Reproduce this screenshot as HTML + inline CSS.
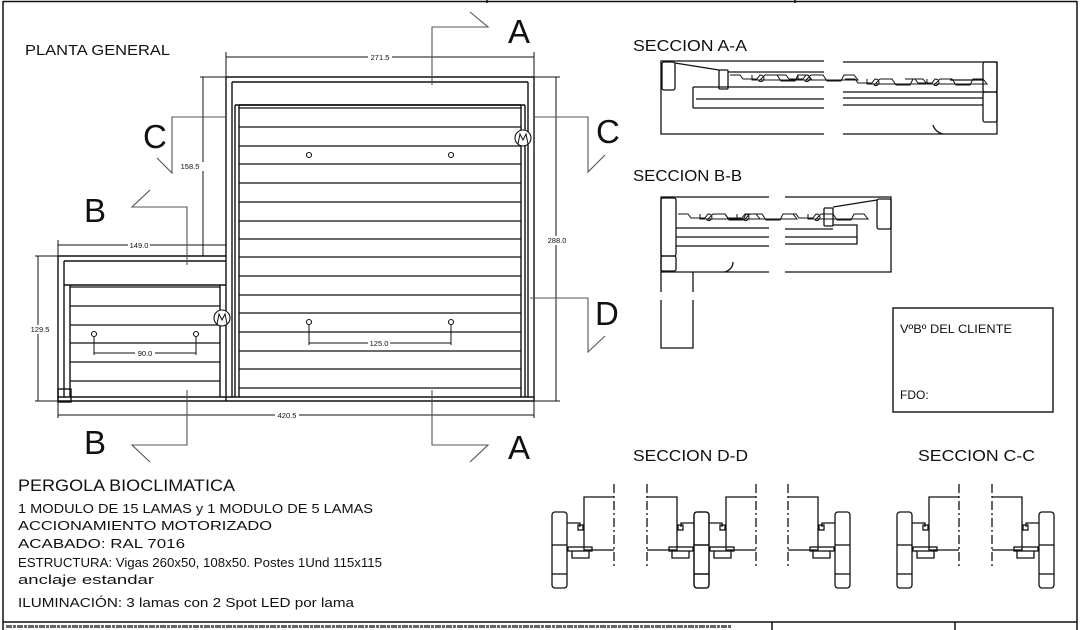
<!DOCTYPE html>
<html><head><meta charset="utf-8"><style>
html,body{margin:0;padding:0;background:#fff;}
svg{display:block;}
text{font-family:"Liberation Sans",sans-serif;fill:#111;}
</style></head><body>
<svg width="1080" height="630" viewBox="0 0 1080 630" xmlns="http://www.w3.org/2000/svg">
<defs>
<g id="pc" fill="none" stroke="#111" stroke-width="1.3">
  <rect x="0" y="512" width="15" height="76" rx="3"/>
  <line x1="0" y1="545" x2="15" y2="545"/>
  <line x1="0" y1="574" x2="15" y2="574"/>
  <polyline points="15,523 28,523 28,527"/>
  <rect x="26" y="525" width="5" height="5"/>
  <polyline points="62,497 32,497 32,550 62,550"/>
  <line x1="62" y1="484" x2="62" y2="566" stroke-dasharray="9,3,2,3"/>
  <rect x="16" y="547" width="24" height="4"/>
  <polyline points="20,551 20,558 37,558 37,551"/>
</g>
<g id="lam" fill="none" stroke="#111" stroke-width="1">
  <path d="M0,0 h10 l3,4 h14 l3,-4 q4,0 4,4 q-2,4 -5,2 l6,-6 h12 l4,6 h14 l3,-6 h10 l4,5 h-60 v-5"/>
</g>
</defs>

<!-- frame -->
<g fill="none" stroke="#111" stroke-width="1.5">
  <line x1="3" y1="1.5" x2="1077" y2="1.5"/>
  <line x1="3" y1="1" x2="3" y2="630"/>
  <line x1="1077" y1="1" x2="1077" y2="630"/>
  <line x1="3" y1="622" x2="1077" y2="622"/>
  <line x1="487" y1="0" x2="487" y2="3"/>
  <line x1="795" y1="0" x2="795" y2="3"/>
  <line x1="772" y1="622" x2="772" y2="630"/>
  <line x1="955" y1="622" x2="955" y2="630"/>
</g>
<line x1="6" y1="626.5" x2="732" y2="626.5" stroke="#666" stroke-width="3" stroke-dasharray="6,1,3,1"/>

<text x="25" y="55" font-size="15" textLength="145" lengthAdjust="spacingAndGlyphs">PLANTA GENERAL</text>

<!-- plan -->
<g fill="none" stroke="#111" stroke-width="1.4">
  <!-- large module -->
  <line x1="226" y1="77" x2="534" y2="77"/>
  <line x1="232" y1="82" x2="528" y2="82"/>
  <line x1="239" y1="105" x2="521" y2="105"/>
  <line x1="226" y1="77" x2="226" y2="401"/>
  <line x1="232" y1="82" x2="232" y2="397"/>
  <line x1="235" y1="105" x2="235" y2="397"/>
  <line x1="239" y1="105" x2="239" y2="397"/>
  <line x1="534" y1="77" x2="534" y2="401"/>
  <line x1="528" y1="82" x2="528" y2="397"/>
  <line x1="525" y1="105" x2="525" y2="397"/>
  <line x1="521" y1="105" x2="521" y2="397"/>
  <line x1="235" y1="105" x2="525" y2="105"/>
  <line x1="58" y1="397" x2="534" y2="397"/>
  <line x1="58" y1="401" x2="534" y2="401"/>
  <!-- small module -->
  <line x1="58" y1="256" x2="226" y2="256"/>
  <line x1="64" y1="261" x2="226" y2="261"/>
  <line x1="64" y1="285" x2="226" y2="285"/>
  <line x1="58" y1="256" x2="58" y2="401"/>
  <line x1="64" y1="261" x2="64" y2="397"/>
  <line x1="70" y1="285" x2="70" y2="397"/>
  <line x1="220" y1="285" x2="220" y2="397"/>
  <rect x="58" y="389" width="13" height="13"/>
</g>
<g stroke="#111" stroke-width="1.3">
  <line x1="239" y1="108" x2="521" y2="108"/><line x1="239" y1="127" x2="521" y2="127"/>
  <line x1="239" y1="146" x2="521" y2="146"/><line x1="239" y1="164" x2="521" y2="164"/>
  <line x1="239" y1="183" x2="521" y2="183"/><line x1="239" y1="202" x2="521" y2="202"/>
  <line x1="239" y1="221" x2="521" y2="221"/><line x1="239" y1="239" x2="521" y2="239"/>
  <line x1="239" y1="257" x2="521" y2="257"/><line x1="239" y1="276" x2="521" y2="276"/>
  <line x1="239" y1="295" x2="521" y2="295"/><line x1="239" y1="313" x2="521" y2="313"/>
  <line x1="239" y1="332" x2="521" y2="332"/><line x1="239" y1="351" x2="521" y2="351"/>
  <line x1="239" y1="369" x2="521" y2="369"/><line x1="239" y1="388" x2="521" y2="388"/>
  <line x1="70" y1="287" x2="220" y2="287"/><line x1="70" y1="306" x2="220" y2="306"/>
  <line x1="70" y1="325" x2="220" y2="325"/><line x1="70" y1="343" x2="220" y2="343"/>
  <line x1="70" y1="362" x2="220" y2="362"/><line x1="70" y1="381" x2="220" y2="381"/>
</g>
<!-- spots -->
<g fill="#fff" stroke="#111" stroke-width="1.1">
  <circle cx="309" cy="155" r="2.5"/><circle cx="451" cy="155" r="2.5"/>
  <circle cx="309" cy="322" r="2.5"/><circle cx="451" cy="322" r="2.5"/>
  <circle cx="94" cy="334" r="2.5"/><circle cx="196" cy="334" r="2.5"/>
  <circle cx="523" cy="138" r="8"/><circle cx="222" cy="318" r="8"/>
</g>
<g stroke="#111" stroke-width="1" fill="none">
  <path d="M518,144 l2,-10 l3,6 l3,-6 l2,10"/>
  <path d="M217,324 l2,-10 l3,6 l3,-6 l2,10"/>
  <line x1="309" y1="325" x2="309" y2="345"/><line x1="451" y1="325" x2="451" y2="345"/>
  <line x1="309" y1="343" x2="451" y2="343"/>
  <line x1="94" y1="337" x2="94" y2="355"/><line x1="196" y1="337" x2="196" y2="355"/>
  <line x1="94" y1="353" x2="196" y2="353"/>
  <!-- dims -->
  <line x1="226" y1="57" x2="534" y2="57"/>
  <line x1="226" y1="52" x2="226" y2="77"/><line x1="534" y1="52" x2="534" y2="77"/>
  <line x1="58" y1="415" x2="534" y2="415"/>
  <line x1="58" y1="401" x2="58" y2="418"/><line x1="534" y1="401" x2="534" y2="418"/>
  <line x1="58" y1="245" x2="226" y2="245"/>
  <line x1="58" y1="240" x2="58" y2="256"/><line x1="226" y1="240" x2="226" y2="256"/>
  <line x1="203" y1="77" x2="203" y2="256"/><line x1="200" y1="77" x2="226" y2="77"/>
  <line x1="38" y1="256" x2="38" y2="401"/>
  <line x1="35" y1="256" x2="58" y2="256"/><line x1="35" y1="401" x2="58" y2="401"/>
  <line x1="556" y1="77" x2="556" y2="401"/>
  <line x1="534" y1="77" x2="560" y2="77"/><line x1="534" y1="401" x2="560" y2="401"/>
</g>
<g font-size="7.5" text-anchor="middle">
  <rect x="368" y="52" width="24" height="9" fill="#fff"/><text x="380" y="60">271.5</text>
  <rect x="275" y="410" width="24" height="9" fill="#fff"/><text x="287" y="418">420.5</text>
  <rect x="128" y="240" width="22" height="9" fill="#fff"/><text x="139" y="248">149.0</text>
  <rect x="197" y="162" width="14" height="9" fill="#fff"/><text x="190" y="169">158.5</text>
  <rect x="28" y="325" width="22" height="9" fill="#fff"/><text x="40" y="332">129.5</text>
  <rect x="546" y="236" width="22" height="9" fill="#fff"/><text x="557" y="243">288.0</text>
  <rect x="368" y="339" width="22" height="9" fill="#fff"/><text x="379" y="346">125.0</text>
  <rect x="135" y="349" width="20" height="9" fill="#fff"/><text x="145" y="356">90.0</text>
</g>

<!-- section cut lines -->
<g fill="none" stroke="#555" stroke-width="1.1">
  <polyline points="470,12 488,27 432,27 432,85"/>
  <polyline points="432,390 432,445 488,445 470,462"/>
  <polyline points="226,117 172,117 172,173 157,158"/>
  <polyline points="535,117 588,117 588,172 605,155"/>
  <polyline points="150,190 132,207 187,207 187,265"/>
  <polyline points="187,390 187,445 132,445 150,462"/>
  <polyline points="530,298 588,298 588,352 605,336"/>
</g>
<g font-size="33">
  <text x="508" y="43">A</text>
  <text x="508" y="459">A</text>
  <text x="143" y="148">C</text>
  <text x="596" y="143">C</text>
  <text x="84" y="222">B</text>
  <text x="84" y="454">B</text>
  <text x="595" y="325">D</text>
</g>

<!-- sections titles -->
<g font-size="16">
  <text x="633" y="51" textLength="114" lengthAdjust="spacingAndGlyphs">SECCION A-A</text>
  <text x="633" y="181" textLength="109" lengthAdjust="spacingAndGlyphs">SECCION B-B</text>
  <text x="633" y="461" textLength="115" lengthAdjust="spacingAndGlyphs">SECCION D-D</text>
  <text x="918" y="461" textLength="117" lengthAdjust="spacingAndGlyphs">SECCION C-C</text>
</g>

<!-- section A-A -->
<g fill="none" stroke="#111" stroke-width="1.3">
  <polyline points="824,61 661,61 661,134 824,134"/>
  <rect x="662" y="62" width="13" height="28" rx="2"/>
  <line x1="675" y1="63" x2="719" y2="70"/>
  <rect x="719" y="70" width="9" height="19" rx="1"/>
  <line x1="728" y1="72" x2="824" y2="72"/>
  <line x1="693" y1="87" x2="824" y2="87"/>
  <line x1="693" y1="87" x2="693" y2="108"/>
  <line x1="696" y1="99" x2="824" y2="99"/>
  <line x1="693" y1="108" x2="824" y2="108"/>
  <polyline points="843,62 997,62 997,134 843,134"/>
  <rect x="983" y="62" width="14" height="30" rx="2"/>
  <rect x="983" y="92" width="14" height="30" rx="2"/>
  <line x1="843" y1="92" x2="983" y2="92"/>
  <line x1="843" y1="98" x2="983" y2="98"/>
  <line x1="843" y1="105" x2="983" y2="105"/>
  <line x1="950" y1="80" x2="983" y2="80"/>
  <path d="M933,125 q2,7 10,9"/>
</g>
<use href="#lam" transform="translate(730,75)"/>
<use href="#lam" transform="translate(776,75)"/>
<use href="#lam" transform="translate(845,79)"/>
<use href="#lam" transform="translate(905,79)"/>

<!-- section B-B -->
<g fill="none" stroke="#111" stroke-width="1.3">
  <polyline points="769,197 661,197 661,272 769,272"/>
  <rect x="661" y="198" width="15" height="58" rx="2"/>
  <rect x="661" y="256" width="15" height="15" rx="2"/>
  <line x1="676" y1="228" x2="769" y2="228"/>
  <line x1="676" y1="237" x2="769" y2="237"/>
  <line x1="676" y1="246" x2="769" y2="246"/>
  <path d="M733,262 q0,7 -8,10"/>
  <polyline points="661,272 661,292"/><polyline points="661,300 661,348 693,348 693,300"/>
  <line x1="693" y1="272" x2="693" y2="292"/>
  <polyline points="785,197 891,197 891,272 785,272"/>
  <rect x="877" y="199" width="14" height="30" rx="2"/>
  <line x1="877" y1="200" x2="833" y2="207"/>
  <rect x="824" y="208" width="9" height="18" rx="1"/>
  <polyline points="833,225 857,225 857,244 785,244"/>
  <line x1="785" y1="229" x2="833" y2="229"/>
  <line x1="785" y1="237" x2="857" y2="237"/>
</g>
<use href="#lam" transform="translate(678,214)"/>
<use href="#lam" transform="translate(715,214)"/>
<use href="#lam" transform="translate(786,214)"/>

<!-- VoBo box -->
<rect x="893" y="308" width="160" height="104" fill="none" stroke="#111" stroke-width="1.4"/>
<text x="900" y="333" font-size="12" textLength="112" lengthAdjust="spacingAndGlyphs">VºBº DEL CLIENTE</text>
<text x="900" y="399" font-size="12">FDO:</text>

<!-- section D-D and C-C pieces -->
<use href="#pc" transform="translate(552,0)"/>
<use href="#pc" transform="translate(694,0)"/>
<use href="#pc" transform="translate(709,0) scale(-1,1)"/>
<use href="#pc" transform="translate(850,0) scale(-1,1)"/>
<use href="#pc" transform="translate(897,0)"/>
<use href="#pc" transform="translate(1054,0) scale(-1,1)"/>

<!-- text block -->
<text x="18" y="491" font-size="16.5" textLength="217" lengthAdjust="spacingAndGlyphs">PERGOLA BIOCLIMATICA</text>
<g font-size="13">
  <text x="18" y="513" textLength="355" lengthAdjust="spacingAndGlyphs">1 MODULO DE 15 LAMAS y 1 MODULO DE 5 LAMAS</text>
  <text x="18" y="530" textLength="254" lengthAdjust="spacingAndGlyphs">ACCIONAMIENTO MOTORIZADO</text>
  <text x="18" y="548" textLength="167" lengthAdjust="spacingAndGlyphs">ACABADO:  RAL 7016</text>
  <text x="18" y="567" textLength="364" lengthAdjust="spacingAndGlyphs">ESTRUCTURA: Vigas 260x50, 108x50. Postes 1Und 115x115</text>
  <text x="18" y="584" textLength="136" lengthAdjust="spacingAndGlyphs">anclaje estandar</text>
  <text x="18" y="607" textLength="336" lengthAdjust="spacingAndGlyphs">ILUMINACIÓN: 3 lamas con 2  Spot LED por lama</text>
</g>
</svg>
</body></html>
